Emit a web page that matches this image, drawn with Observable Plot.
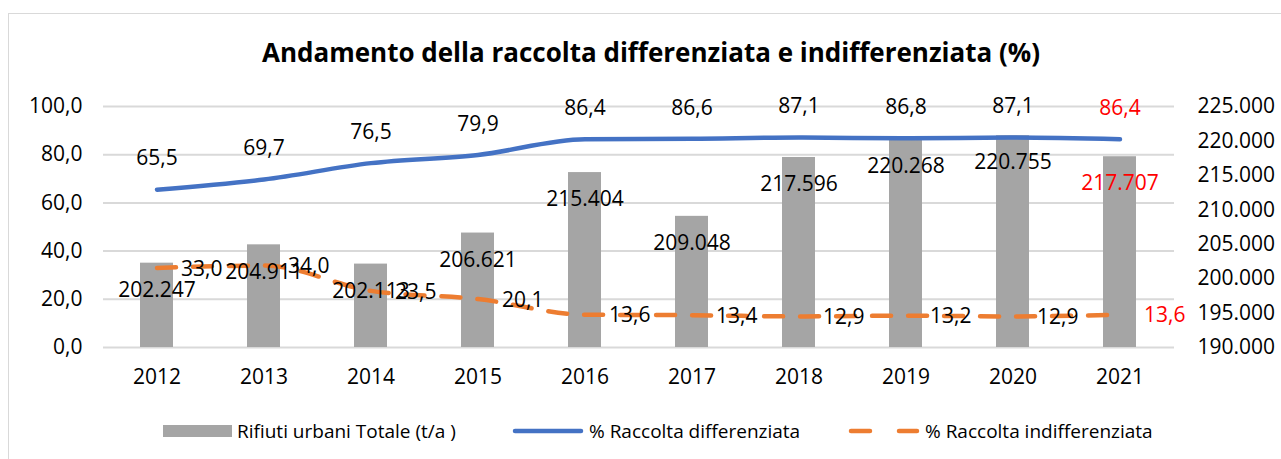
<!DOCTYPE html>
<html>
<head>
<meta charset="utf-8">
<script src="https://cdn.jsdelivr.net/npm/d3@7"></script>
<script src="https://cdn.jsdelivr.net/npm/@observablehq/plot@0.6"></script>
<style>
  html, body { margin: 0; padding: 0; background: #fff; }
  #wrap { position: relative; width: 1281px; height: 459px; overflow: hidden; font-family: "Open Sans", sans-serif; }
  #frame { position: absolute; left: 8px; top: 13px; width: 1400px; height: 600px; border: 1.5px solid #D9D9D9; box-sizing: border-box; }
  #title { position: absolute; left: 8px; width: 1286px; top: 34px; text-align: center; font-weight: 700; font-size: 26px; color: #000; }
  #chart { position: absolute; left: 0; top: 80px; }
  #legend { position: absolute; left: 0; top: 416px; width: 1281px; height: 30px; font-size: 19px; color: #000; }
  .li { position: absolute; top: 0; height: 30px; display: flex; align-items: center; }
</style>
</head>
<body>
<div id="wrap">
  <div id="frame"></div>
  <div id="title">Andamento della raccolta differenziata e indifferenziata (%)</div>
  <div id="chart"></div>
  <div id="legend"></div>
</div>
<script>
const years = ["2012","2013","2014","2015","2016","2017","2018","2019","2020","2021"];
const totale = [202247, 204911, 202113, 206621, 215404, 209048, 217596, 220268, 220755, 217707];
const differenziata = [65.5, 69.7, 76.5, 79.9, 86.4, 86.6, 87.1, 86.8, 87.1, 86.4];
const indifferenziata = [33.0, 34.0, 23.5, 20.1, 13.6, 13.4, 12.9, 13.2, 12.9, 13.6];
const leftTicks = [0, 20, 40, 60, 80, 100];
const rightTicks = [190000, 195000, 200000, 205000, 210000, 215000, 220000, 225000];
const seriesNames = ["Rifiuti urbani Totale (t/a )", "% Raccolta differenziata", "% Raccolta indifferenziata"];

const rMin = 190000, rMax = 225000;
const toPct = v => (v - rMin) / (rMax - rMin) * 100;
const fmtPct = v => v.toFixed(1).replace(".", ",");
const fmtThousands = v => d3.format(",")(v).replace(/,/g, ".");

const data = years.map((y, i) => ({
  year: y, tot: totale[i], diff: differenziata[i], ind: indifferenziata[i]
}));
const labelFill = d => d.year === "2021" ? "#FF0000" : "#000000";

const blue = "#4472C4", orange = "#ED7D31", gray = "#A5A5A5";

const plot = Plot.plot({
  width: 1281,
  height: 320,
  marginLeft: 103,
  marginRight: 107,
  marginTop: 26,
  marginBottom: 53,
  style: { fontFamily: "Open Sans, sans-serif", fontSize: "21px", color: "#000", background: "transparent" },
  x: { type: "band", domain: years, paddingInner: 0.69, paddingOuter: 0.345, axis: null, label: null },
  y: { domain: [0, 100], axis: null, label: null },
  marks: [
    Plot.ruleY(leftTicks, { stroke: "#D9D9D9", strokeWidth: 2 }),
    Plot.barY(data, { x: "year", y1: 0, y2: d => toPct(d.tot), fill: gray }),
    Plot.lineY(data, { x: "year", y: "diff", stroke: blue, strokeWidth: 4.5, curve: "monotone-x", strokeLinecap: "round" }),
    Plot.lineY(data, { x: "year", y: "ind", stroke: orange, strokeWidth: 4.5, curve: "monotone-x", strokeLinecap: "round", strokeDasharray: "19,17" }),
    Plot.text(data, { x: "year", y: d => toPct(d.tot), text: d => fmtThousands(d.tot), dy: 27, fill: labelFill, fontSize: 21 }),
    Plot.text(data, { x: "year", y: "diff", text: d => fmtPct(d.diff), dy: -31, fill: labelFill, fontSize: 21 }),
    Plot.text(data, { x: "year", y: "ind", text: d => fmtPct(d.ind), dx: 24, dy: 1, textAnchor: "start", fill: labelFill, fontSize: 21 }),
    Plot.axisY(leftTicks, { anchor: "left", tickSize: 0, tickPadding: 21, tickFormat: fmtPct, fontSize: 21, label: null }),
    Plot.axisY(rightTicks.map(toPct), { anchor: "right", tickSize: 0, tickPadding: 23, tickFormat: (d, i) => fmtThousands(rightTicks[i]), fontSize: 21, label: null }),
    Plot.axisX({ tickSize: 0, tickPadding: 22, fontSize: 21, label: null })
  ]
});
document.getElementById("chart").appendChild(plot);

// legend
const legend = document.getElementById("legend");
const items = [
  { left: 163, swatch: `<svg width="69" height="14"><rect x="0" y="1" width="69" height="12" fill="${gray}"/></svg>` },
  { left: 512, swatch: `<svg width="72" height="14"><line x1="3" y1="7" x2="69" y2="7" stroke="${blue}" stroke-width="4.5" stroke-linecap="round"/></svg>` },
  { left: 848, swatch: `<svg width="72" height="14"><line x1="3" y1="7" x2="69" y2="7" stroke="${orange}" stroke-width="4.5" stroke-linecap="round" stroke-dasharray="19,29"/></svg>` }
];
items.forEach((it, i) => {
  const el = document.createElement("div");
  el.className = "li";
  el.style.left = it.left + "px";
  el.innerHTML = it.swatch + `<span style="margin-left:5px">${seriesNames[i]}</span>`;
  legend.appendChild(el);
});
</script>
</body>
</html>
